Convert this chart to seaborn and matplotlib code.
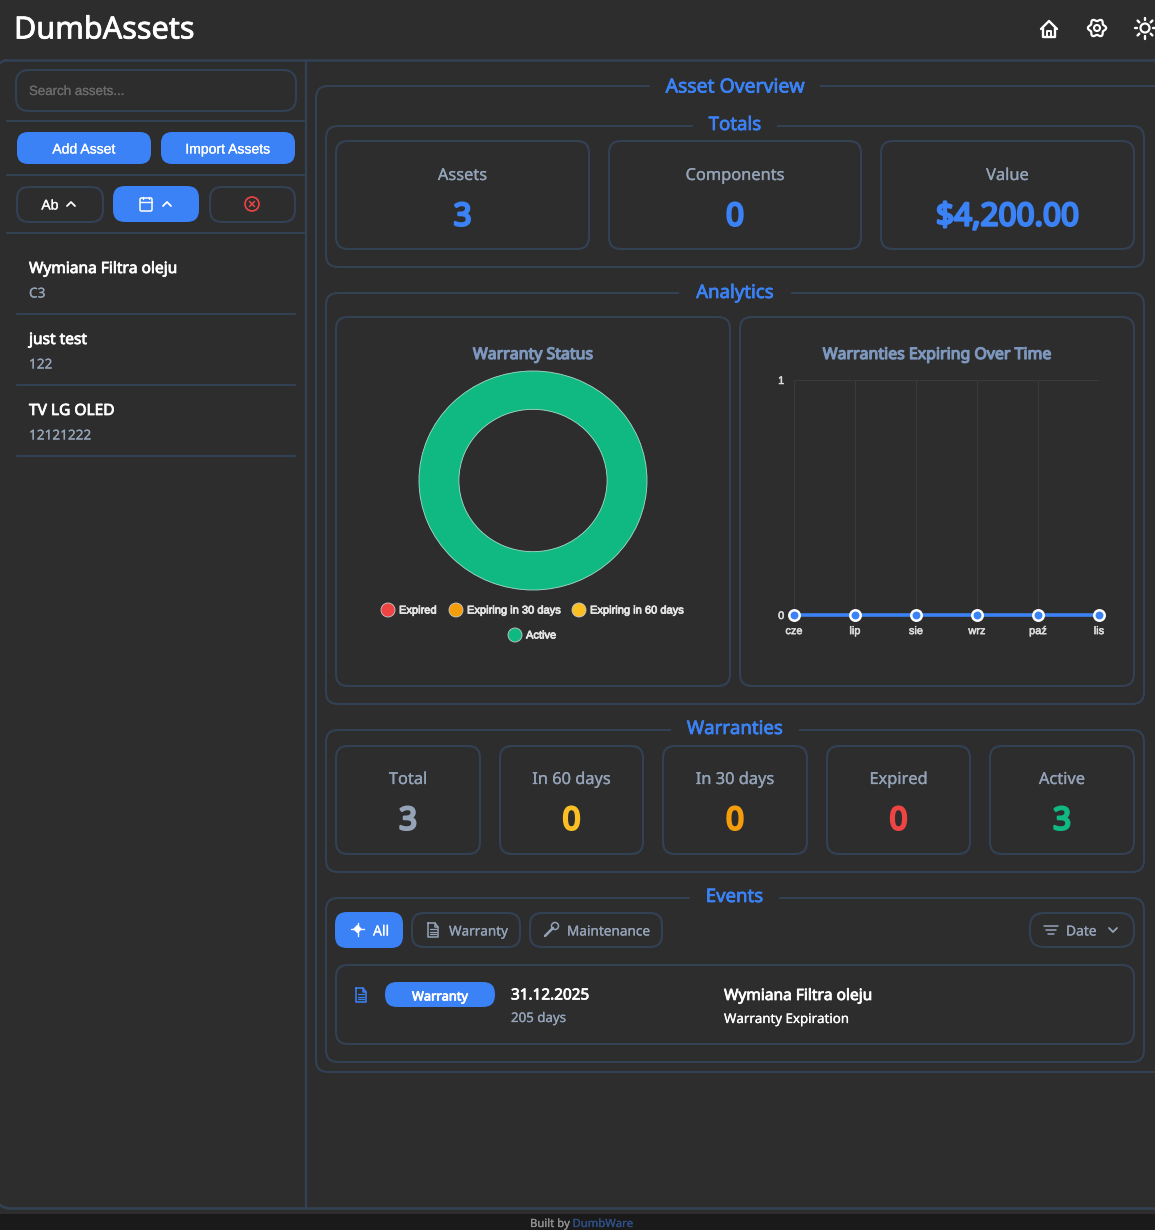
"""DumbAssets dashboard, dibujado con seaborn/matplotlib sobre un lienzo en pixeles."""
import matplotlib
matplotlib.use('Agg')
import matplotlib.patheffects as pe
import matplotlib.pyplot as plt
import numpy as np
import seaborn as sns
from matplotlib.patches import Circle, FancyBboxPatch

W, H = 1155, 1230
BG = '#2d2d2d'
BORDER = '#334155'
BLUE = '#3b82f6'
MUTED = '#94a3b8'
SLATE_TITLE = '#7d97bd'
SANS = 'Noto Sans'
ARIAL = 'Liberation Sans'

# Datos
status_labels = ['Expired', 'Expiring in 30 days', 'Expiring in 60 days', 'Active']
status_values = [0, 0, 0, 3]
status_colors = ['#ef4444', '#f59e0b', '#fbbf24', '#10b981']

months = ['cze', 'lip', 'sie', 'wrz', 'paź', 'lis']
expiring = [0, 0, 0, 0, 0, 0]

totals_labels = ['Assets', 'Components', 'Value']
totals_values = ['3', '0', '$4,200.00']

warranty_labels = ['Total', 'In 60 days', 'In 30 days', 'Expired', 'Active']
warranty_values = ['3', '0', '0', '0', '3']
warranty_colors = ['#94a3b8', '#fbbf24', '#f59e0b', '#ef4444', '#10b981']

asset_names = ['Wymiana Filtra oleju', 'just test', 'TV LG OLED']
asset_tags = ['C3', '122', '12121222']

sns.set_theme(style='dark', rc={'figure.facecolor': BG, 'axes.facecolor': BG})
plt.rcParams['font.family'] = [SANS, 'DejaVu Sans']

fig = plt.figure(figsize=(W / 100, H / 100), dpi=100)
bg = fig.add_axes([0, 0, 1, 1])
bg.set_xlim(0, W)
bg.set_ylim(H, 0)
bg.axis('off')


def px_axes(x0, y0, x1, y1):
    """Crea un axes a partir de un rectangulo en pixeles (y hacia abajo)."""
    return fig.add_axes([x0 / W, 1 - y1 / H, (x1 - x0) / W, (y1 - y0) / H])


def box(x0, y0, x1, y1, r=12, fc='none', ec=BORDER, lw=1.5, z=2):
    bg.add_patch(FancyBboxPatch((x0 + r, y0 + r), x1 - x0 - 2 * r, y1 - y0 - 2 * r,
                                boxstyle=f'round,pad={r},rounding_size={r}',
                                fc=fc, ec=ec, lw=lw, zorder=z))


def label(x, y, s, size, color='white', weight='normal', ha='center', family=SANS):
    # size en px de CSS, pasado a puntos; la Noto Sans instalada solo da regular,
    # asi que el peso se simula con un trazo del mismo color
    stroke = {'bold': size * 0.055, 'medium': 0.55, 'normal': 0.18}[weight]
    t = bg.text(x, y, s, fontsize=size * 0.72, color=color, ha=ha,
                va='center_baseline', family=family, zorder=6)
    t.set_path_effects([pe.withStroke(linewidth=stroke, foreground=color)])


def fieldset(x0, y0, x1, y1, title, gap0, gap1, size=18.6, dy=3):
    box(x0, y0, x1, y1)
    bg.fill_between([gap0, gap1], y0 - 3, y0 + 3, color=BG, lw=0, zorder=3)
    label((gap0 + gap1) / 2, y0 - dy, title, size, BLUE, 'medium')


def line(xs, ys, color='white', lw=1.5, z=6):
    bg.plot(xs, ys, color=color, lw=lw, zorder=z, solid_capstyle='round',
            solid_joinstyle='round')


def ring(x, y, r, color='white', lw=1.5, fc='none'):
    bg.add_patch(Circle((x, y), r, fc=fc, ec=color, lw=lw, zorder=6))


def chevron(x, y, up=True, color='white', s=4):
    d = -s / 2 if up else s / 2
    line([x - s, x, x + s], [y - d, y + d, y - d], color, 1.3)


def doc_icon(x, y, color, lw=1.1):
    line([x - 5, x + 2, x + 5, x + 5, x - 5, x - 5], [y - 7, y - 7, y - 3, y + 7, y + 7, y - 7], color, lw)
    line([x + 2, x + 2, x + 5], [y - 7, y - 3, y - 3], color, lw)
    for dy in [0, 2.5, 5]:
        line([x - 3, x + 3], [y + dy - 1, y + dy - 1], color, 0.9)


# Cabecera
label(14, 27, 'DumbAssets', 30.6, 'white', 'medium', ha='left')
line([1041, 1049, 1057], [29, 21, 29], 'white', 1.7)
line([1043, 1043, 1055, 1055], [28, 37, 37, 28], 'white', 1.7)
line([1047, 1047, 1051, 1051], [37, 31, 31, 37], 'white', 1.4)
ring(1097, 28, 3, 'white', 1.5)
theta = np.linspace(0, 2 * np.pi, 121)
gear_r = 8 + 1.1 * np.cos(6 * theta)
line(1097 + gear_r * np.cos(theta), 28 + gear_r * np.sin(theta), 'white', 1.6)
ring(1145, 28, 4.5, 'white', 1.6)
for a in np.radians(np.arange(0, 360, 45)):
    line([1145 + 8 * np.cos(a), 1145 + 10.5 * np.cos(a)], [28 + 8 * np.sin(a), 28 + 10.5 * np.sin(a)], 'white', 1.7)

# Marco general, barra lateral y pie
line([7, W + 5], [60, 60], BORDER, 1.8, 2)
line([7, W + 5], [1208, 1208], BORDER, 1.8, 2)
line([0, 3, 7], [63, 61, 60], BORDER, 1.8, 2)
line([0, 3, 7], [1205, 1207, 1208], BORDER, 1.8, 2)
line([306, 306], [60, 1208], BORDER, 1.6, 2)
bg.fill_between([0, W], 1214, H, color='#1a1a1a', lw=0, zorder=1)
label(530, 1223, 'Built by', 11.3, '#8f8f8f', ha='left')
label(572.5, 1223, 'DumbWare', 11.3, '#2f4f86', ha='left')

# Barra lateral
box(16, 70, 296, 111, r=13)
label(29, 90.5, 'Search assets...', 13.3, '#6b6b6b', ha='left', family=ARIAL)
for y in [121, 175, 233]:
    line([7, 305], [y, y], BORDER, 1.5, 2)
box(17, 132, 151, 164, r=11, fc=BLUE, ec='none')
box(161, 132, 295, 164, r=11, fc=BLUE, ec='none')
label(84, 148, 'Add Asset', 14, family=ARIAL)
label(228, 148, 'Import Assets', 14, family=ARIAL)
box(17, 187, 103, 222, r=12)
box(113, 186, 199, 222, r=12, fc=BLUE, ec='none')
box(210, 187, 295, 222, r=12)
label(50, 204, 'Ab', 14, family=ARIAL)
chevron(71, 204)
box(140, 198, 152, 211, r=1.5, ec='white', lw=1.1, z=6)
line([140, 152], [202, 202], 'white', 1)
line([143, 143], [196.5, 199], 'white', 1)
line([149, 149], [196.5, 199], 'white', 1)
chevron(167, 204)
ring(252, 204, 7, '#ef4444', 1.2)
line([249.5, 254.5], [201.5, 206.5], '#ef4444', 1.1)
line([249.5, 254.5], [206.5, 201.5], '#ef4444', 1.1)

name_ys = [267, 338, 409]
for name, tag, y in zip(asset_names, asset_tags, name_ys):
    label(29, y, name, 15.5, 'white', 'medium', ha='left')
    label(29, y + 25, tag, 13.6, MUTED, ha='left')
    line([17, 295], [y + 47, y + 47], BORDER, 1.5, 2)

# Panel principal
fieldset(316, 86, 1170, 1072, 'Asset Overview', 650, 820, 19.4, dy=1)
fieldset(326, 126, 1144, 267, 'Totals', 693, 777)
fieldset(326, 293, 1144, 704, 'Analytics', 679, 791, dy=2)
fieldset(326, 730, 1144, 872, 'Warranties', 671, 799)
fieldset(326, 898, 1144, 1062, 'Events', 690, 779)

total_x = [(336, 589), (609, 861), (881, 1134)]
for (x0, x1), name, val in zip(total_x, totals_labels, totals_values):
    box(x0, 141, x1, 249)
    label((x0 + x1) / 2, 174, name, 16.4, MUTED)
    label((x0 + x1) / 2, 214, val, 31.5, BLUE, 'bold')

warranty_x = [(336, 480), (500, 643), (663, 807), (827, 970), (990, 1134)]
for (x0, x1), name, val, col in zip(warranty_x, warranty_labels, warranty_values, warranty_colors):
    box(x0, 746, x1, 854)
    label((x0 + x1) / 2, 778, name, 16.4, MUTED)
    label((x0 + x1) / 2, 818, val, 31.5, col, 'bold')

# Tarjetas de graficos
box(336, 317, 730, 686)
box(740, 317, 1134, 686)
label(533, 353, 'Warranty Status', 15.9, SLATE_TITLE, 'bold')
label(937, 353, 'Warranties Expiring Over Time', 15.9, SLATE_TITLE, 'bold')

# Dona
ax_pie = px_axes(419, 371, 647, 590)
ax_pie.patch.set_alpha(0)
ax_pie.pie(status_values, colors=status_colors, startangle=90, counterclock=False, radius=1,
           wedgeprops=dict(width=0.35, edgecolor='#a8dccb', linewidth=0.6))
ax_pie.set_aspect('auto')
ax_pie.set_xlim(-1, 1)
ax_pie.set_ylim(-1, 1)

legend_pos = [(388, 399), (456, 467), (579, 590), (515, 526)]
legend_row = [610, 610, 610, 635]
for name, col, (cx, tx), y in zip(status_labels, status_colors, legend_pos, legend_row):
    bg.add_patch(Circle((cx, y), 7, fc=col, ec='#c9c9c9', lw=0.6, zorder=6))
    label(tx, y - 0.5, name, 11.1, '#e5e5e5', 'medium', ha='left', family=ARIAL)

# Linea
ax_line = px_axes(794, 380, 1099, 615)
ax_line.patch.set_alpha(0)
sns.lineplot(x=months, y=expiring, ax=ax_line, color=BLUE, linewidth=2.6, marker='o', markersize=7.5,
             markerfacecolor=BLUE, markeredgecolor='white', markeredgewidth=1.8, clip_on=False, zorder=5)
ax_line.set_xlim(0, len(months) - 1)
ax_line.set_ylim(0, 1)
ax_line.set_yticks([0, 1])
ax_line.set_xlabel('')
ax_line.set_ylabel('')
ax_line.grid(True, color='#3a3a3a', lw=0.8)
ax_line.set_axisbelow(True)
for s in ax_line.spines.values():
    s.set_visible(False)
ax_line.tick_params(axis='x', length=0, pad=8, labelsize=7.9, labelcolor='#dcdcdc')
ax_line.tick_params(axis='y', length=7, width=0.8, color='#3a3a3a', pad=0, labelsize=7.9, labelcolor='#dcdcdc')
for t in ax_line.get_xticklabels() + ax_line.get_yticklabels():
    t.set_family(ARIAL)
    t.set_path_effects([pe.withStroke(linewidth=0.4, foreground='#dcdcdc')])

# Eventos
box(335, 912, 403, 948, r=12, fc=BLUE, ec='none')
line([351, 364], [929, 929], 'white', 1)
line([357.5, 357.5], [923, 936], 'white', 1)
bg.fill([354, 357.5, 361, 357.5], [929, 925.5, 929, 932.5], color='white', zorder=6)
label(373, 930, 'All', 14, ha='left')
box(412, 913, 520, 947, r=12)
doc_icon(433, 930, MUTED)
label(449, 930, 'Warranty', 13.5, MUTED, ha='left')
box(530, 913, 662, 947, r=12)
line([545, 553], [936, 928], MUTED, 1.8)
ring(555, 926, 3.5, MUTED, 1.1)
label(567, 930, 'Maintenance', 13.6, MUTED, ha='left')
box(1030, 913, 1134, 947, r=14)
for half, y in [(7, 926), (5, 930), (3, 934)]:
    line([1051 - half, 1051 + half], [y, y], MUTED, 1.1)
label(1066, 930, 'Date', 13.8, MUTED, ha='left')
chevron(1113, 930, up=False, color=MUTED)

box(336, 965, 1134, 1044)
doc_icon(361, 995, BLUE)
box(385, 982, 495, 1007, r=12, fc=BLUE, ec='none')
label(440, 995.5, 'Warranty', 12.8, 'white', 'medium')
label(511, 994, '31.12.2025', 15.3, 'white', 'medium', ha='left')
label(511, 1017, '205 days', 13.3, MUTED, ha='left')
label(724, 994, 'Wymiana Filtra oleju', 15.5, 'white', 'medium', ha='left')
label(724, 1018, 'Warranty Expiration', 13.3, 'white', ha='left')

fig.savefig('out.png', dpi=100, facecolor=BG)
